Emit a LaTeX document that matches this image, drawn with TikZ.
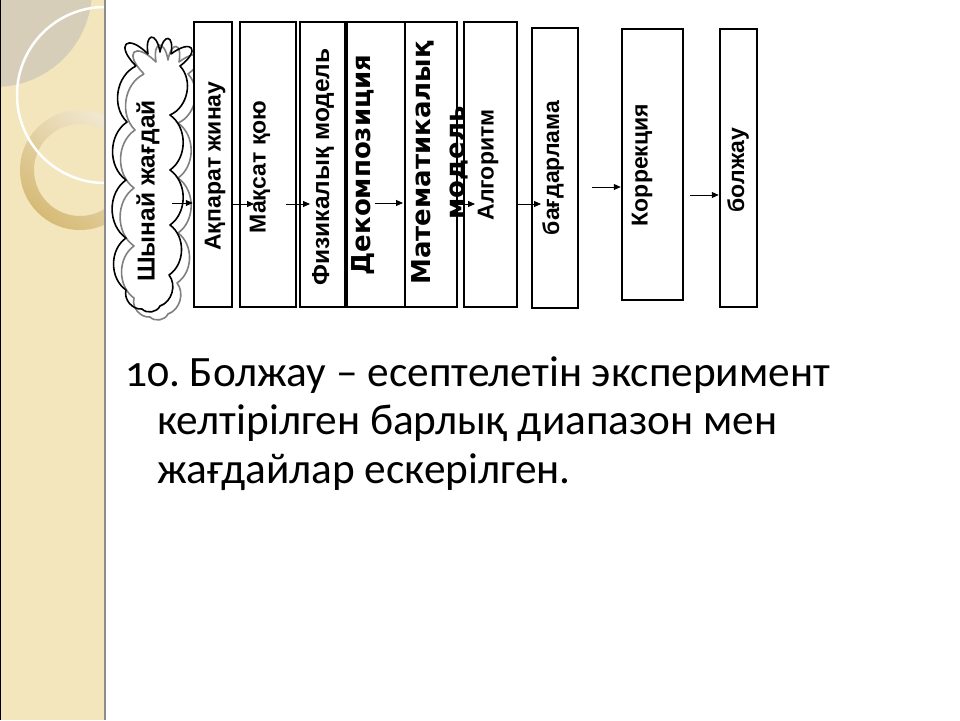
\documentclass[tikz,border=0pt]{standalone}
\usepackage{fontspec}
\setmainfont{Carlito}
\newfontfamily\boxfont{Liberation Sans}
\newfontfamily\wideboxfont{DejaVu Sans}
\usetikzlibrary{arrows.meta}
\definecolor{paneltan}{RGB}{243,229,188}
\definecolor{paneldark}{RGB}{215,206,186}
\definecolor{ringlight}{RGB}{242,234,212}
\definecolor{ringdark}{RGB}{214,186,118}
\definecolor{cloudgray}{RGB}{128,128,128}
\tikzset{
  stepbox/.style={draw=black, line width=2.5pt, fill=white, rectangle, inner sep=0pt},
  boxlabel/.style={rotate=90, inner sep=0pt, font=\boxfont\bfseries\fontsize{23}{27}\selectfont},
  biglabel/.style={rotate=90, inner sep=0pt, font=\boxfont\bfseries\fontsize{24.5}{28}\selectfont},
  widelabel/.style={rotate=90, inner sep=0pt, align=center,
     font=\wideboxfont\bfseries\fontsize{26}{34}\selectfont},
  cloudline/.style={line width=1.6pt, line join=round},
  finger/.style={bend left=90, looseness=4.5},
  lobe/.style={bend left=55},
  arr/.style={-{Triangle[length=7pt,width=6pt]}, line width=0.9pt},
  bodytext/.style={anchor=base west, inner sep=0pt, font=\fontsize{43.3}{52}\selectfont}
}
\newcommand\mycloudpath{%
  (136,66) to[finger] (148,54) to[finger] (160,52) to[finger] (171,54)
  to[finger] (180,66) to[lobe] (170,115) to[lobe] (170,170)
  to[lobe] (170,225) to[lobe] (169,275) to[lobe] (160,306)
  to[lobe] (142,309) to[lobe] (126,290) to[lobe] (126,238)
  to[lobe] (126,180) to[lobe] (127,122) to[lobe] (136,66)}
\begin{document}
\frenchspacing
\begin{tikzpicture}[x=1pt,y=-1pt]
\useasboundingbox (0,0) rectangle (960,720);
\fill[white] (0,0) rectangle (960,720);
% left decorative panel
\fill[paneltan] (0,0) rectangle (105,720);
\begin{scope}
  \clip (0,0) rectangle (105,720);
  \fill[paneldark] (-5,-10) circle (97);
  \shade[even odd rule, top color=ringlight, bottom color=ringdark, shading angle=-40]
     (80,170) circle (60) (80,170) circle (46);
  \draw[white, line width=2.5pt] (105,95) circle (88);
\end{scope}
\draw[black!45, line width=1.5pt] (105,0) -- (105,720);
\draw[black, line width=1pt] (0.5,0) -- (0.5,720);

% cloud (grey shadow outline, then black outline)
\begin{scope}[shift={(8,8)}]
  \draw[cloudline, draw=cloudgray] \mycloudpath;
\end{scope}
\draw[cloudline, draw=black] \mycloudpath;
\node[biglabel] (l0) at (148,191) {Шынай жағдай};

% boxes
\node[stepbox, minimum width=38pt, minimum height=285pt] (b1) at (213,164.5) {};
\node[stepbox, minimum width=56pt, minimum height=285pt] (b2) at (268,164.5) {};
\node[stepbox, minimum width=45pt, minimum height=285pt] (b3) at (322.5,164.5) {};
\node[stepbox, minimum width=58pt, minimum height=285pt] (b4) at (376,164.5) {};
\node[stepbox, minimum width=52pt, minimum height=285pt] (b5) at (431,164.5) {};
\node[stepbox, minimum width=53pt, minimum height=285pt] (b6) at (490.5,164.5) {};
\node[stepbox, minimum width=46pt, minimum height=280pt] (b7) at (555,168) {};
\node[stepbox, minimum width=61pt, minimum height=271pt] (b8) at (652.5,164.5) {};
\node[stepbox, minimum width=37pt, minimum height=278pt] (b9) at (738.5,168) {};

% labels
\node[boxlabel] (l1) at (215,166) {Ақпарат жинау};
\node[boxlabel] (l2) at (260,167) {Мақсат қою};
\node[biglabel] (l3) at (323,167) {Физикалық модель};
\node[widelabel] (l4) at (363,165) {Декомпозиция};
\node[widelabel] (l5) at (440,163) {Математикалық\\модель};
\node[boxlabel] (l6) at (488,165) {Алгоритм};
\node[boxlabel] (l7) at (553,168) {бағдарлама};
\node[boxlabel] (l8) at (642,165) {Коррекция};
\node[boxlabel] (l9) at (738,170) {болжау};

% arrows
\coordinate (a1) at (172,203);
\coordinate (a2s) at (232,204); \coordinate (a2e) at (254,204);
\coordinate (a3s) at (286,204); \coordinate (a3e) at (310,204);
\coordinate (a4s) at (375,203); \coordinate (a4e) at (403,203);
\coordinate (a5s) at (455,204); \coordinate (a5e) at (475,204);
\coordinate (a6s) at (518,204); \coordinate (a6e) at (541,204);
\coordinate (a7s) at (592,187);
\coordinate (a8s) at (690,195);
\draw[arr] (a1) -- (a1 -| b1.west);
\draw[arr] (a2s) -- (a2e);
\draw[arr] (a3s) -- (a3e);
\draw[arr] (a4s) -- (a4e);
\draw[arr] (a5s) -- (a5e);
\draw[arr] (a6s) -- (a6e);
\draw[arr] (a7s) -- (a7s -| b8.west);
\draw[arr] (a8s) -- (a8s -| b9.west);

% body text
\node[bodytext] (t1) at (125,386) {{\addfontfeature{Numbers=OldStyle}10}. Болжау – есептелетін эксперимент};
\node[bodytext] (t2) at (157,434) {келтірілген барлық диапазон мен};
\node[bodytext] (t3) at (157,483) {жағдайлар ескерілген.};
\end{tikzpicture}
\end{document}
